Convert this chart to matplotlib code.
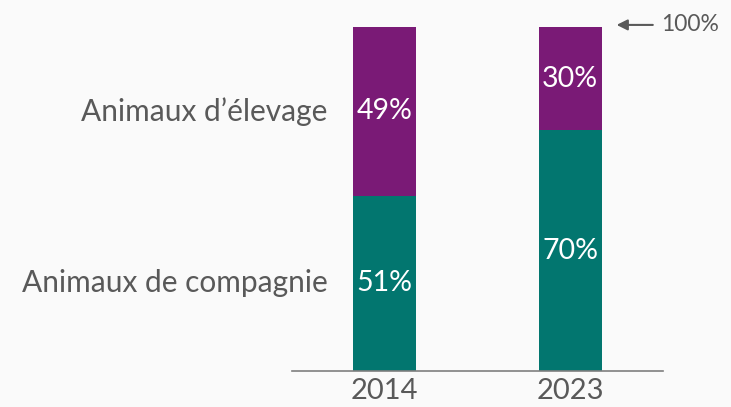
import matplotlib.pyplot as plt

# Share of each animal group, per year (percent)
years = ['2014', '2023']
compagnie = [51, 70]
elevage = [49, 30]
series_names = ['Animaux de compagnie', "Animaux d\u2019élevage"]

teal = '#02766F'
purple = '#7A1A76'
grey = '#595959'

plt.rcParams['font.family'] = ['Lato', 'DejaVu Sans']

fig = plt.figure(figsize=(7.31, 4.07), dpi=100, facecolor='#FAFAFA')
ax = fig.add_axes([0.3995, 0.0885, 0.5075, 0.8452])
ax.set_facecolor('#FAFAFA')

x = range(len(years))
width = 0.34
ax.bar(x, compagnie, width, color=teal)
ax.bar(x, elevage, width, bottom=compagnie, color=purple)

# Percent labels centred in each segment
for i in x:
    ax.text(i, compagnie[i] / 2, f'{compagnie[i]}%', ha='center', va='center',
            color='white', fontsize=20.5)
    ax.text(i, compagnie[i] + elevage[i] / 2, f'{elevage[i]}%', ha='center',
            va='center', color='white', fontsize=20.5)

# Series names to the left of the first bar
ax.text(-0.31, compagnie[0] / 2, series_names[0], ha='right', va='center',
        color=grey, fontsize=21.5)
ax.text(-0.31, compagnie[0] + elevage[0] / 2, series_names[1], ha='right',
        va='center', color=grey, fontsize=21.5)

# 100% marker
ax.annotate('', xy=(1.25, 100.6), xytext=(1.445, 100.6),
            arrowprops=dict(arrowstyle='-|>', color=grey, lw=1.5,
                            mutation_scale=16, shrinkA=0, shrinkB=0),
            annotation_clip=False)
ax.text(1.49, 100.6, '100%', ha='left', va='center', color=grey, fontsize=16.5,
        clip_on=False)

ax.set_xlim(-0.5, 1.5)
ax.set_ylim(0, 100)
ax.set_xticks(list(x))
ax.set_xticklabels(years, fontsize=21, color=grey)
ax.tick_params(axis='x', length=0, pad=5)
ax.set_yticks([])
for side in ['top', 'right', 'left']:
    ax.spines[side].set_visible(False)
ax.spines['bottom'].set_color('#7F7F7F')
ax.spines['bottom'].set_linewidth(1.2)

fig.savefig('out.png', dpi=100, facecolor=fig.get_facecolor())
